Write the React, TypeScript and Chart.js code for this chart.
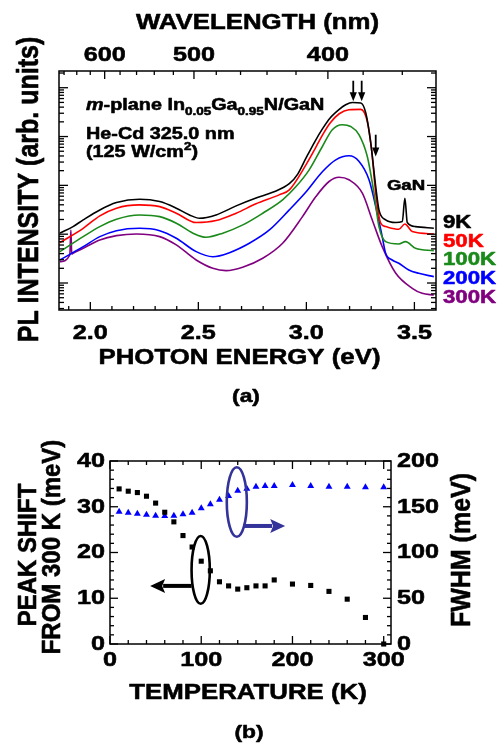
import React, { useEffect, useRef } from "react";
import { Chart, registerables } from "chart.js";

Chart.register(...registerables);

const HC = 1239.84; // eV*nm, photon energy <-> wavelength

// ---------- Panel (a): PL spectra (photon energy in eV, PL intensity arb. units, log) ----------
const eng9K = [1.859, 1.92, 1.967, 2.044, 2.121, 2.228, 2.321, 2.398, 2.459, 2.505, 2.582, 2.675, 2.767, 2.844, 2.921, 2.96, 2.998, 3.04, 3.075, 3.11, 3.152, 3.182, 3.213, 3.252, 3.275, 3.298, 3.321, 3.336, 3.367, 3.413, 3.444, 3.456, 3.467, 3.505, 3.59];
const pl9K = [10.5, 14.3, 19.6, 31.4, 44.4, 52.1, 46.5, 34.1, 24.8, 21.2, 24.8, 38, 55, 72, 108, 170, 360, 800, 1450, 2400, 3600, 4480, 4990, 4850, 3030, 734, 94.4, 31.4, 19.6, 17.3, 18.1, 54.6, 17.3, 14.3, 13.2];

const eng50K = [1.859, 1.967, 2.044, 2.121, 2.228, 2.321, 2.398, 2.49, 2.582, 2.675, 2.767, 2.874, 2.921, 2.998, 3.04, 3.075, 3.11, 3.152, 3.197, 3.252, 3.282, 3.302, 3.321, 3.344, 3.367, 3.428, 3.456, 3.49, 3.59];
const pl50K = [6.71, 13.2, 23.7, 34.1, 39.8, 36.7, 26.9, 17.3, 19.0, 26.9, 41.8, 63.8, 81, 263, 560, 1086, 1900, 2930, 3538, 3600, 2037, 535, 69.2, 16.8, 14.3, 12.6, 16.2, 11.3, 10.1];

const eng100K = [1.859, 1.967, 2.044, 2.121, 2.228, 2.321, 2.398, 2.475, 2.536, 2.613, 2.706, 2.798, 2.89, 2.952, 3.013, 3.074, 3.12, 3.166, 3.205, 3.244, 3.282, 3.313, 3.336, 3.367, 3.428, 3.459, 3.505, 3.59];
const pl100K = [4.39, 8.91, 14.3, 20.3, 24.8, 22.9, 16.8, 10.5, 8.65, 10.5, 15.5, 26.9, 50.4, 94.4, 208, 625, 1375, 1742, 1607, 1086, 390, 69.2, 14.3, 7.03, 6.31, 7.03, 5.15, 4.6];

const eng200K = [1.859, 1.967, 2.044, 2.121, 2.228, 2.321, 2.398, 2.49, 2.567, 2.644, 2.736, 2.829, 2.921, 2.998, 3.074, 3.136, 3.197, 3.244, 3.29, 3.328, 3.351, 3.367, 3.397, 3.428, 3.474, 3.52, 3.59];
const pl200K = [2.96, 5.55, 8.91, 11.8, 13.2, 11.8, 8.26, 4.39, 3.46, 4.19, 6.52, 12.2, 31.4, 73, 190, 333, 403, 308, 130, 26.9, 8.91, 4.07, 2.96, 2.54, 1.85, 1.58, 1.35];

const eng300K = [1.859, 1.905, 1.91, 1.914, 1.92, 1.967, 2.044, 2.121, 2.213, 2.321, 2.398, 2.49, 2.567, 2.628, 2.705, 2.798, 2.89, 2.982, 3.044, 3.105, 3.151, 3.197, 3.259, 3.305, 3.351, 3.413, 3.49, 3.536, 3.59];
const pl300K = [2.73, 3.75, 12.2, 3.9, 4.07, 5.15, 7.62, 9.33, 10.1, 8.91, 6.02, 2.96, 2.0, 1.79, 2.1, 3.21, 6.52, 22.9, 58.9, 120, 147, 130, 69.2, 19.6, 5.55, 1.6, 0.78, 0.615, 0.567];

const seriesNames = ["9K", "50K", "100K", "200K", "300K"];
const seriesColors = ["#000000", "#ff0000", "#1a8a1a", "#0000ff", "#800080"];
const seriesEnergies = [eng9K, eng50K, eng100K, eng200K, eng300K];
const seriesIntensities = [pl9K, pl50K, pl100K, pl200K, pl300K];

const energyTicks = [1.9, 2.0, 2.1, 2.2, 2.3, 2.4, 2.5, 2.6, 2.7, 2.8, 2.9, 3.0, 3.1, 3.2, 3.3, 3.4, 3.5];
const energyLabels = [2.0, 2.5, 3.0, 3.5];
const wavelengthTicks = [660, 640, 620, 600, 580, 560, 540, 520, 500, 480, 460, 440, 420, 400, 380, 360];
const wavelengthLabels = [600, 500, 400];
const logDecades = [0.1, 1, 10, 100, 1000, 10000];
const logMultipliers = [1, 2, 3, 4, 5, 6, 7, 8, 9];

// peak-position arrows: energy, arrow start intensity, arrow tip intensity
const arrowEnergies = [3.217, 3.256, 3.321];
const arrowFrom = [13900, 13900, 1090];
const arrowTo = [5290, 5290, 390];

// ---------- Panel (b): temperature dependence ----------
const temps = [10, 20, 30, 40, 50, 60, 70, 80, 90, 100, 110, 120, 130, 140, 150, 160, 170, 180, 200, 220, 240, 260, 280, 300];
const peakShift = [33.9, 33.4, 33.1, 32.3, 30.8, 28.8, 26.7, 23.7, 21.2, 18.1, 16.0, 13.6, 12.7, 12.0, 12.3, 12.7, 12.7, 14.0, 13.1, 12.8, 11.5, 9.8, 5.8, 0];
const fwhm = [144.6, 143.5, 142.4, 141.3, 140.2, 139.9, 140.2, 141.7, 143.5, 148.3, 152.7, 157.7, 161.7, 167.5, 169.7, 171.9, 172.7, 172.7, 173.8, 172.7, 171.9, 171.9, 171.2, 171.2];

const tempTicks = [0, 20, 40, 60, 80, 100, 120, 140, 160, 180, 200, 220, 240, 260, 280, 300];
const tempLabels = [0, 100, 200, 300];
const shiftTicks = [0, 2, 4, 6, 8, 10, 12, 14, 16, 18, 20, 22, 24, 26, 28, 30, 32, 34, 36, 38, 40];
const shiftLabels = [0, 10, 20, 30, 40];
const fwhmTicks = [0, 10, 20, 30, 40, 50, 60, 70, 80, 90, 100, 110, 120, 130, 140, 150, 160, 170, 180, 190, 200];
const fwhmLabels = [0, 50, 100, 150, 200];

// axis-marker ellipses (data units) and their arrows
const fwhmEllipse = { t: 139, v: 155.2, dt: 11, dv: 38, arrowStart: 146, arrowEnd: 192, arrowV: 129 };
const shiftEllipse = { t: 99.4, v: 16.2, dt: 10, dv: 7.4, arrowStart: 89.5, arrowEnd: 44, arrowV: 12.7 };

// ---------- drawing helpers ----------
const FONT = '"Liberation Sans", Arial, Helvetica, sans-serif';
const SX = 1.2;
const HEAVY = 0.55;

function drawText(ctx: CanvasRenderingContext2D, text: string, x: number, y: number, size: number, opts: any = {}) {
  const { align = "center", baseline = "middle", rotate = 0, color = "#000", stretch = SX } = opts;
  ctx.save();
  ctx.translate(x, y);
  ctx.scale(stretch, 1);
  if (rotate) ctx.rotate(rotate);
  ctx.font = `bold ${size}px ${FONT}`;
  ctx.fillStyle = color;
  ctx.strokeStyle = color;
  ctx.lineWidth = HEAVY;
  ctx.lineJoin = "round";
  ctx.textAlign = align;
  ctx.textBaseline = baseline;
  ctx.fillText(text, 0, 0);
  ctx.strokeText(text, 0, 0);
  ctx.restore();
}

function drawRich(ctx: CanvasRenderingContext2D, segs: any[], x: number, y: number, size: number) {
  ctx.save();
  ctx.translate(x, y);
  ctx.scale(SX, 1);
  ctx.fillStyle = "#000";
  ctx.strokeStyle = "#000";
  ctx.lineWidth = HEAVY;
  ctx.lineJoin = "round";
  ctx.textBaseline = "alphabetic";
  ctx.textAlign = "left";
  let cx = 0;
  for (const s of segs) {
    const sz = s.sub || s.sup ? size * 0.68 : size;
    ctx.font = `${s.italic ? "italic " : ""}bold ${sz}px ${FONT}`;
    const dy = s.sub ? size * 0.3 : s.sup ? -size * 0.42 : 0;
    ctx.fillText(s.t, cx, dy);
    ctx.strokeText(s.t, cx, dy);
    cx += ctx.measureText(s.t).width;
  }
  ctx.restore();
}

function line(ctx: CanvasRenderingContext2D, x1: number, y1: number, x2: number, y2: number) {
  ctx.beginPath();
  ctx.moveTo(x1, y1);
  ctx.lineTo(x2, y2);
  ctx.stroke();
}

const near = (arr: number[], v: number) => arr.some((a) => Math.abs(a - v) < 1e-6);

const frameA = {
  id: "frameA",
  afterDraw(chart: any) {
    const { ctx, chartArea } = chart;
    const { left, right, top, bottom } = chartArea;
    const xs = chart.scales.x;
    const ys = chart.scales.y;
    ctx.save();
    ctx.strokeStyle = "#000";
    ctx.lineWidth = 1.5;
    ctx.strokeRect(left, top, right - left, bottom - top);
    ctx.lineWidth = 1.3;
    for (const e of energyTicks) {
      const px = xs.getPixelForValue(e);
      const len = near(energyLabels, e) ? 8 : 4;
      line(ctx, px, bottom, px, bottom - len);
    }
    for (const w of wavelengthTicks) {
      const px = xs.getPixelForValue(HC / w);
      if (px < left || px > right) continue;
      const len = near(wavelengthLabels, w) ? 8 : 4;
      line(ctx, px, top, px, top + len);
    }
    for (const d of logDecades) {
      for (const m of logMultipliers) {
        const v = d * m;
        if (v < ys.min || v > ys.max) continue;
        const py = ys.getPixelForValue(v);
        const len = m === 1 ? 9 : 5;
        line(ctx, left, py, left + len, py);
        line(ctx, right, py, right - len, py);
      }
    }
    // tick labels
    for (const e of energyLabels) drawText(ctx, e.toFixed(1), xs.getPixelForValue(e), bottom + 23, 21);
    for (const w of wavelengthLabels) drawText(ctx, String(w), xs.getPixelForValue(HC / w), top - 16, 21);
    // axis titles
    drawText(ctx, "WAVELENGTH (nm)", (left + right) / 2 + 10, 23, 21.5);
    drawText(ctx, "PHOTON ENERGY (eV)", (left + right) / 2 - 8, 358, 21.5);
    drawText(ctx, "PL INTENSITY (arb. units)", 30, (top + bottom) / 2 - 1, 25, { rotate: -Math.PI / 2 });
    drawText(ctx, "(a)", 246, 397, 19);
    // annotation text
    drawRich(ctx, [{ t: "m", italic: true }, { t: "-plane In" }, { t: "0.05", sub: true }, { t: "Ga" }, { t: "0.95", sub: true }, { t: "N/GaN" }], 86, 110, 16.5);
    drawRich(ctx, [{ t: "He-Cd 325.0 nm" }], 86, 139, 16.5);
    drawRich(ctx, [{ t: "(125 W/cm" }, { t: "2", sup: true }, { t: ")" }], 86, 156.5, 16.5);
    drawText(ctx, "GaN", 406, 186, 15.5);
    // series labels
    const labelY = [223, 241.5, 260, 279, 298];
    seriesNames.forEach((n, i) => drawText(ctx, n, 443, labelY[i], 18.5, { align: "left", color: seriesColors[i] }));
    // peak arrows
    ctx.fillStyle = "#000";
    ctx.strokeStyle = "#000";
    ctx.lineWidth = 1.8;
    arrowEnergies.forEach((e, i) => {
      const px = xs.getPixelForValue(e);
      const y1 = ys.getPixelForValue(arrowFrom[i]);
      const y2 = ys.getPixelForValue(arrowTo[i]);
      line(ctx, px, y1, px, y2 - 6);
      ctx.beginPath();
      ctx.moveTo(px - 3.6, y2 - 9);
      ctx.lineTo(px + 3.6, y2 - 9);
      ctx.lineTo(px, y2);
      ctx.closePath();
      ctx.fill();
    });
    ctx.restore();
  },
};

function hArrow(ctx: CanvasRenderingContext2D, x1: number, x2: number, y: number, color: string) {
  const dir = Math.sign(x2 - x1);
  const headLen = 15;
  ctx.save();
  ctx.strokeStyle = color;
  ctx.fillStyle = color;
  ctx.lineWidth = 4;
  line(ctx, x1, y, x2 - dir * headLen + dir * 2, y);
  ctx.beginPath();
  ctx.moveTo(x2, y);
  ctx.lineTo(x2 - dir * headLen, y - 7);
  ctx.lineTo(x2 - dir * headLen + dir * 3, y);
  ctx.lineTo(x2 - dir * headLen, y + 7);
  ctx.closePath();
  ctx.fill();
  ctx.restore();
}

const frameB = {
  id: "frameB",
  afterDraw(chart: any) {
    const { ctx, chartArea } = chart;
    const { left, right, top, bottom } = chartArea;
    const xs = chart.scales.x;
    const ys = chart.scales.y;
    const y1 = chart.scales.y1;
    ctx.save();
    ctx.strokeStyle = "#000";
    ctx.lineWidth = 1.5;
    ctx.strokeRect(left, top, right - left, bottom - top);
    ctx.lineWidth = 1.3;
    for (const t of tempTicks) {
      const px = xs.getPixelForValue(t);
      const len = near(tempLabels, t) ? 8 : 4;
      line(ctx, px, bottom, px, bottom - len);
      line(ctx, px, top, px, top + len);
    }
    for (const v of shiftTicks) {
      const py = ys.getPixelForValue(v);
      const len = near(shiftLabels, v) ? 8 : 4;
      line(ctx, left, py, left + len, py);
    }
    for (const v of fwhmTicks) {
      const py = y1.getPixelForValue(v);
      const len = near(fwhmLabels, v) ? 8 : 4;
      line(ctx, right, py, right - len, py);
    }
    for (const t of tempLabels) drawText(ctx, String(t), xs.getPixelForValue(t), bottom + 16, 21);
    for (const v of shiftLabels) drawText(ctx, String(v), left - 5, ys.getPixelForValue(v), 21, { align: "right" });
    for (const v of fwhmLabels) drawText(ctx, String(v), right + 6, y1.getPixelForValue(v), 21, { align: "left" });
    drawText(ctx, "TEMPERATURE (K)", 248, 283, 21.5);
    drawText(ctx, "(b)", 249, 323, 19);
    drawText(ctx, "PEAK SHIFT", 29, 145, 24, { rotate: -Math.PI / 2, stretch: 1.1 });
    drawText(ctx, "FROM 300 K (meV)", 53, 137, 24, { rotate: -Math.PI / 2, stretch: 1.1 });
    drawText(ctx, "FWHM (meV)", 462, 140, 25, { rotate: -Math.PI / 2, stretch: 1.1 });

    // FWHM marker ellipse + arrow
    {
      const cx = xs.getPixelForValue(fwhmEllipse.t);
      const cy = y1.getPixelForValue(fwhmEllipse.v);
      const rx = Math.abs(xs.getPixelForValue(fwhmEllipse.t + fwhmEllipse.dt) - cx);
      const ry = Math.abs(y1.getPixelForValue(fwhmEllipse.v + fwhmEllipse.dv) - cy);
      ctx.strokeStyle = "#333399";
      ctx.lineWidth = 2.6;
      ctx.beginPath();
      ctx.ellipse(cx, cy, rx, ry, 0, 0, Math.PI * 2);
      ctx.stroke();
      hArrow(ctx, xs.getPixelForValue(fwhmEllipse.arrowStart), xs.getPixelForValue(fwhmEllipse.arrowEnd), y1.getPixelForValue(fwhmEllipse.arrowV), "#333399");
    }
    // peak-shift marker ellipse + arrow
    {
      const cx = xs.getPixelForValue(shiftEllipse.t);
      const cy = ys.getPixelForValue(shiftEllipse.v);
      const rx = Math.abs(xs.getPixelForValue(shiftEllipse.t + shiftEllipse.dt) - cx);
      const ry = Math.abs(ys.getPixelForValue(shiftEllipse.v + shiftEllipse.dv) - cy);
      ctx.strokeStyle = "#000";
      ctx.lineWidth = 2.6;
      ctx.beginPath();
      ctx.ellipse(cx, cy, rx, ry, 0, 0, Math.PI * 2);
      ctx.stroke();
      hArrow(ctx, xs.getPixelForValue(shiftEllipse.arrowStart), xs.getPixelForValue(shiftEllipse.arrowEnd), ys.getPixelForValue(shiftEllipse.arrowV), "#000");
    }
    ctx.restore();
  },
};

function makeConfigA(): any {
  return {
    type: "line",
    data: {
      datasets: seriesNames.map((name, i) => ({
        label: name,
        data: seriesEnergies[i].map((e, j) => ({ x: e, y: seriesIntensities[i][j] })),
        borderColor: seriesColors[i],
        borderWidth: 1.6,
        pointRadius: 0,
        fill: false,
        cubicInterpolationMode: "monotone",
      })),
    },
    options: {
      animation: false,
      responsive: false,
      devicePixelRatio: 1,
      layout: { padding: { left: 59, top: 71, right: 64, bottom: 100 } },
      plugins: { legend: { display: false }, tooltip: { enabled: false } },
      scales: {
        x: { type: "linear", min: 1.855, max: 3.6, display: false },
        y: { type: "logarithmic", min: 0.28, max: 22000, display: false },
      },
    },
    plugins: [frameA],
  };
}

function makeConfigB(): any {
  return {
    type: "scatter",
    data: {
      datasets: [
        {
          label: "Peak shift",
          data: temps.map((t, i) => ({ x: t, y: peakShift[i] })),
          yAxisID: "y",
          pointStyle: "rect",
          pointRadius: 3.6,
          backgroundColor: "#000",
          borderColor: "#000",
          borderWidth: 0,
          clip: false,
        },
        {
          label: "FWHM",
          data: temps.map((t, i) => ({ x: t, y: fwhm[i] })),
          yAxisID: "y1",
          pointStyle: "triangle",
          pointRadius: 4,
          backgroundColor: "#0000ff",
          borderColor: "#0000ff",
          borderWidth: 0,
          clip: false,
        },
      ],
    },
    options: {
      animation: false,
      responsive: false,
      devicePixelRatio: 1,
      layout: { padding: { left: 110, top: 51, right: 109, bottom: 103 } },
      plugins: { legend: { display: false }, tooltip: { enabled: false } },
      scales: {
        x: { type: "linear", min: 0, max: 308, display: false },
        y: { type: "linear", min: 0, max: 40, display: false },
        y1: { type: "linear", min: 0, max: 200, display: false, position: "right" },
      },
    },
    plugins: [frameB],
  };
}

export default function App() {
  const refA = useRef<HTMLCanvasElement>(null);
  const refB = useRef<HTMLCanvasElement>(null);
  useEffect(() => {
    const a = new Chart(refA.current as HTMLCanvasElement, makeConfigA());
    const b = new Chart(refB.current as HTMLCanvasElement, makeConfigB());
    return () => {
      a.destroy();
      b.destroy();
    };
  }, []);
  return (
    <div style={{ position: "fixed", left: 0, top: 0, width: 500, height: 747, background: "#fff" }}>
      <canvas ref={refA} width={500} height={410} style={{ position: "absolute", left: 0, top: 0, width: 500, height: 410 }} />
      <canvas ref={refB} width={500} height={337} style={{ position: "absolute", left: 0, top: 410, width: 500, height: 337 }} />
    </div>
  );
}
